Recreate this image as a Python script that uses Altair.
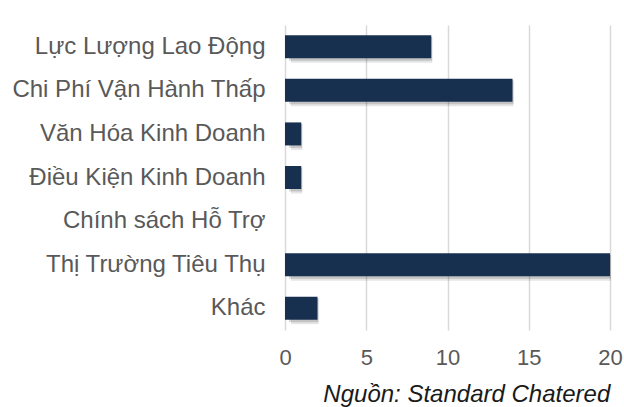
import altair as alt
import pandas as pd

categories = ["Lực Lượng Lao Động", "Chi Phí Vận Hành Thấp", "Văn Hóa Kinh Doanh",
              "Điều Kiện Kinh Doanh", "Chính sách Hỗ Trợ", "Thị Trường Tiêu Thụ", "Khác"]
values = [9, 14, 1, 1, 0, 20, 2]
ticks = [0, 5, 10, 15, 20]

df = pd.DataFrame({"cat": categories, "v": values})

FONT = "Liberation Sans"
y_enc = alt.Y("cat:N", sort=categories, title=None,
              scale=alt.Scale(paddingInner=0.47, paddingOuter=0.235),
              axis=alt.Axis(domain=False, ticks=False, labelFontSize=24, labelFont=FONT,
                            labelColor="#595959", labelPadding=20, labelLimit=400, grid=False))
x_enc = alt.X("v:Q", title=None, scale=alt.Scale(domain=[0, 20], nice=False),
              axis=alt.Axis(values=ticks, domain=False, ticks=False, labelFontSize=22,
                            labelFont=FONT, labelColor="#595959", labelPadding=17,
                            labelFlush=False, gridColor="#d9d9d9", gridWidth=1.5))

base = alt.Chart(df)
shadow1 = base.transform_filter("datum.v > 0").mark_bar(
    color="#000000", opacity=0.10, xOffset=1, x2Offset=6, yOffset=3, height=26
).encode(y=y_enc, x=x_enc, x2=alt.datum(0))
shadow2 = base.transform_filter("datum.v > 0").mark_bar(
    color="#000000", opacity=0.15, xOffset=1, x2Offset=4, yOffset=2, height=24
).encode(y=y_enc, x=x_enc, x2=alt.datum(0))
bars = base.mark_bar(color="#17304f", height=23).encode(y=y_enc, x=x_enc)

chart = alt.layer(shadow1, shadow2, bars).properties(
    width=325, height=305,
    autosize=alt.AutoSizeParams(type="none"),
    padding={"left": 277, "top": 17, "right": 14, "bottom": 77},
    title=alt.TitleParams("Nguồn: Standard Chatered", orient="bottom", anchor="end",
                          fontStyle="italic", fontWeight="normal", fontSize=24,
                          font=FONT, color="#1a1a1a", offset=15, dx=-12)
).configure_view(stroke=None)

chart.save("out.html", embed_options={"renderer": "svg", "actions": False})

# chart reaches the window's right edge, as the reference does
with open("out.html", encoding="utf-8") as f:
    html = f.read()
html = html.replace("<head>", "<head><style>html,body{overflow:hidden}body{margin:8px 0 0 8px}</style>", 1)
with open("out.html", "w", encoding="utf-8") as f:
    f.write(html)
